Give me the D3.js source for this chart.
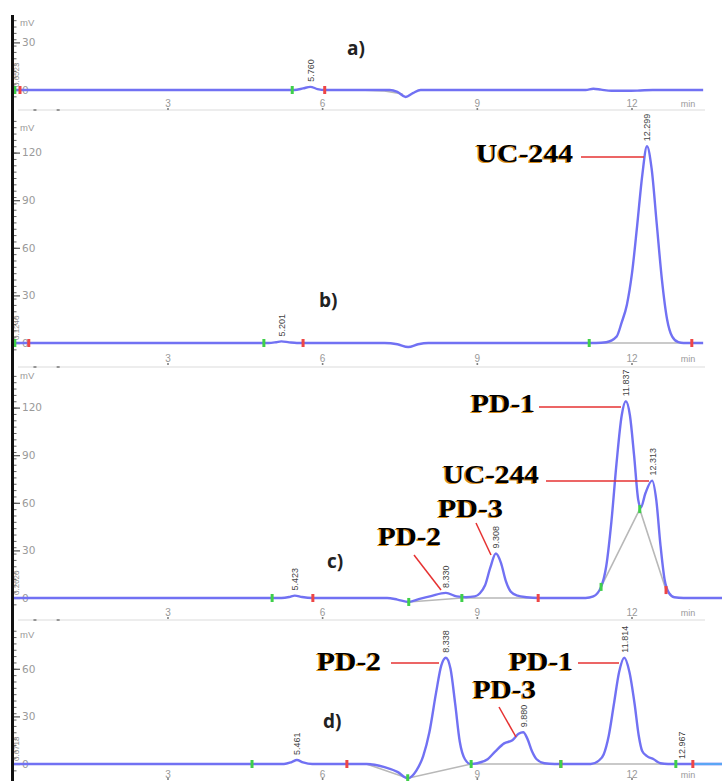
<!DOCTYPE html>
<html>
<head>
<meta charset="utf-8">
<script src="https://cdn.jsdelivr.net/npm/d3@7"></script>
<style>
  body { margin: 0; background: #fff; }
</style>
</head>
<body>
<svg id="chart"></svg>
<script>
// chromatogram traces, [time (min), signal (mV)]
const traceA = [[0,0],[1.5,0],[3,0],[4.5,0],[5.45,0],[5.62,1],[5.76,2],[5.9,0.6],[6.05,0],[6.6,0],[7.3,0],[7.45,-1.2],[7.61,-4.4],[7.75,-2],[7.9,0],[8.6,0],[10,0],[11.1,0],[11.25,0.8],[11.4,0.2],[11.6,-0.5],[12.1,-0.4],[12.4,0],[13.38,0]];
const traceB = [[0,0],[2,0],[4,0],[4.95,0],[5.1,0.5],[5.2,1],[5.35,0.4],[5.5,0],[6.2,0],[7.2,0],[7.45,-0.8],[7.66,-2.5],[7.85,-0.8],[8.05,0],[9,0],[10.5,0],[11.3,0],[11.5,0.5],[11.7,4],[11.8,13],[11.9,24],[12.0,44],[12.1,74],[12.2,106],[12.29,124],[12.38,110],[12.48,75],[12.58,40],[12.68,15],[12.78,4],[12.9,0.5],[13.0,0],[13.38,0]];
const traceC = [[0,0],[2,0],[4,0],[5.2,0],[5.35,0.6],[5.46,1.5],[5.6,0.6],[5.8,0],[6.6,0],[7.25,0],[7.45,-1],[7.67,-2.5],[7.88,-0.6],[8.1,1.2],[8.39,3.2],[8.6,1],[8.78,0.5],[8.95,1],[9.05,3],[9.15,8],[9.25,19],[9.36,28],[9.46,22],[9.55,11],[9.65,4],[9.78,1.5],[9.95,0.5],[10.2,0],[10.6,0],[11.1,0],[11.25,1],[11.4,7],[11.5,20],[11.6,48],[11.7,85],[11.8,115],[11.88,124],[11.96,115],[12.04,90],[12.12,62],[12.17,57],[12.26,66],[12.39,74],[12.47,62],[12.55,34],[12.63,12],[12.72,3],[12.82,0.5],[13.0,0],[13.75,0]];
const traceD = [[0,0],[2,0],[4,0],[5.25,0],[5.4,1.2],[5.5,2.5],[5.62,1],[5.8,0],[6.5,0],[6.85,0],[7.2,-2],[7.45,-5],[7.65,-9],[7.82,-4],[7.95,5],[8.07,20],[8.2,45],[8.3,62],[8.39,67],[8.48,60],[8.57,38],[8.66,14],[8.76,3],[8.87,0],[9.0,0.5],[9.2,3],[9.35,8],[9.52,13],[9.68,15],[9.8,19],[9.89,20],[9.97,16],[10.06,8],[10.15,3],[10.3,0.5],[10.5,0],[11.2,0],[11.35,2],[11.45,6],[11.55,18],[11.65,38],[11.75,58],[11.85,67],[11.95,58],[12.05,38],[12.13,18],[12.2,8],[12.29,5],[12.42,3],[12.55,0.5],[12.7,0],[13.75,0]];

// integration baselines (grey)
const baseA = [[6.7,0],[7.2,-0.6],[7.55,-2.5]];
const baseB = [[11.17,0],[13.16,0]];
const baseC = [[7.67,-2.5],[8.7,0],[10.18,0]];
const baseC2 = [[11.4,7],[12.15,56],[12.66,5]];
const baseD = [[6.85,0],[7.65,-9],[8.88,0],[10.62,0],[12.85,0]];

// peak start/end marks: [time, mV, kind]
const marksA = [[0.03,0,"s"],[0.13,0,"e"],[5.41,0,"s"],[6.04,0,"e"]];
const marksB = [[0.03,0,"s"],[0.3,0,"e"],[4.86,0,"s"],[5.62,0,"e"],[11.17,0,"s"],[13.16,0,"e"]];
const marksC = [[5.02,0,"s"],[5.81,0,"e"],[7.67,-2.5,"s"],[8.7,0,"s"],[10.18,0,"e"],[11.4,7,"s"],[12.15,56,"s"],[12.66,5,"e"]];
const marksD = [[4.63,0,"s"],[6.47,0,"e"],[7.65,-9,"s"],[8.88,0,"s"],[10.62,0,"e"],[10.62,0,"s"],[12.85,0,"s"],[13.18,0,"e"]];

// retention time labels: [time, mV at apex, text]
const peaksA = [[5.76,2,"5.760"]];
const peaksB = [[5.2,1,"5.201"],[12.29,124,"12.299"]];
const peaksC = [[5.46,1.5,"5.423"],[8.39,3.2,"8.330"],[9.36,28,"9.308"],[11.88,124,"11.837"],[12.39,74,"12.313"]];
const peaksD = [[5.5,2.5,"5.461"],[8.39,67,"8.338"],[9.89,20,"9.880"],[11.85,67,"11.814"],[12.967,0,"12.967"]];

const yTicksA = [0, 30];
const yTicksB = [0, 30, 60, 90, 120];
const yTicksC = [0, 30, 60, 90, 120];
const yTicksD = [0, 30, 60];
const xTicks = [3, 6, 9, 12];
const panelLetters = ["a)", "b)", "c)", "d)"];
const startLabels = ["0.0523", "0.1240", "0.2620", "0.0718"];

const svg = d3.select("#chart")
    .attr("width", 722)
    .attr("height", 781)
    .style("font-family", "'Liberation Sans', Arial, sans-serif");

const x = d3.scaleLinear().domain([0, 13.6]).range([13.3, 714.5]);

const panels = [
    { zero: 90,  sep: 110,  mv: 23,  xlab: 103, trace: traceA, bases: [baseA],         marks: marksA, peaks: peaksA, ticks: yTicksA, top: 20 },
    { zero: 343, sep: 367,  mv: 128, xlab: 358, trace: traceB, bases: [baseB],         marks: marksB, peaks: peaksB, ticks: yTicksB, top: 120 },
    { zero: 598, sep: 620,  mv: 376, xlab: 612, trace: traceC, bases: [baseC, baseC2], marks: marksC, peaks: peaksC, ticks: yTicksC, top: 372 },
    { zero: 764, sep: null, mv: 635, xlab: 774, trace: traceD, bases: [baseD],         marks: marksD, peaks: peaksD, ticks: yTicksD, top: 625 }
];

// label boxes and leader lines for compounds (pixel layout)
const compounds = [
    { text: "UC-244", x: 476, y: 162, w: 97, leader: [[581,157],[644,157]] },
    { text: "PD-1",   x: 471, y: 412, w: 64, leader: [[539,407],[621,407]] },
    { text: "UC-244", x: 443, y: 483, w: 96, leader: [[546,481],[649,481]] },
    { text: "PD-3",   x: 438, y: 517, w: 65, leader: [[476,523],[491,555]] },
    { text: "PD-2",   x: 378, y: 545, w: 63, leader: [[414,555],[441,590]] },
    { text: "PD-2",   x: 317, y: 670, w: 64, leader: [[391,663],[439,663]] },
    { text: "PD-1",   x: 509, y: 670, w: 64, leader: [[578,663],[619,663]] },
    { text: "PD-3",   x: 473, y: 698, w: 63, leader: [[499,707],[516,737]] }
];
const letterPos = [[347,55],[319,307],[327,568],[323,728]];

panels.forEach(function(p, i) {
    const y = d3.scaleLinear().domain([0, 30]).range([p.zero, p.zero - 47.6]);
    const g = svg.append("g");

    // separator / x axis line
    if (p.sep) {
        g.append("line")
            .attr("x1", 18).attr("x2", 705)
            .attr("y1", p.sep).attr("y2", p.sep)
            .attr("stroke", "#dcdcdc").attr("stroke-width", 1.2);
        g.selectAll(".mt").data([0.42, 0.87]).join("line")
            .attr("x1", d => x(d) - 1.5).attr("x2", d => x(d) + 1.5)
            .attr("y1", p.sep).attr("y2", p.sep)
            .attr("stroke", "#777").attr("stroke-width", 1.5);
    }

    // x tick labels
    g.selectAll(".xt").data(xTicks).join("text")
        .attr("x", d => x(d))
        .attr("y", p.xlab)
        .attr("text-anchor", "middle")
        .attr("dy", "0.35em")
        .style("font-size", "10px")
        .style("fill", "#9a9a9a")
        .text(d => d);
    g.selectAll(".xd").data(xTicks).join("circle")
        .attr("cx", d => x(d))
        .attr("cy", Math.min(p.xlab + 6, 779))
        .attr("r", 1)
        .attr("fill", "#777");
    g.append("text")
        .attr("x", 688).attr("y", p.xlab + 1)
        .attr("text-anchor", "middle")
        .attr("dy", "0.35em")
        .style("font-size", "9px")
        .style("fill", "#9a9a9a")
        .text("min");

    // y axis
    const yMin = y.invert(p.zero + 8), yMax = y.invert(p.top);
    const minor = g.append("g")
        .attr("transform", "translate(14,0)")
        .call(d3.axisRight(y).tickValues(d3.range(Math.ceil(yMin / 4) * 4, yMax, 4)).tickSize(2.5).tickFormat(""));
    minor.select(".domain").remove();
    minor.selectAll("line").attr("stroke", "#666");

    const ya = g.append("g")
        .attr("transform", "translate(14,0)")
        .call(d3.axisRight(y).tickValues(p.ticks).tickSize(6).tickPadding(2));
    ya.select(".domain").remove();
    ya.selectAll("line").attr("stroke", "#555").attr("stroke-width", 1.2);
    ya.selectAll("text")
        .style("font-size", "10.5px")
        .style("font-family", "'DejaVu Sans', sans-serif")
        .style("fill", "#9a9a9a");

    g.append("text")
        .attr("x", 20).attr("y", p.mv)
        .attr("dy", "0.35em")
        .style("font-size", "9.5px")
        .style("fill", "#9a9a9a")
        .text("mV");

    // garbled start label at the very left
    g.append("text")
        .attr("transform", `translate(19,${p.zero - 3}) rotate(-90)`)
        .style("font-size", "8px")
        .style("fill", "#888")
        .text(startLabels[i]);

    // integration baselines
    const line = d3.line().x(d => x(d[0])).y(d => y(d[1]));
    p.bases.forEach(function(b) {
        g.append("path")
            .attr("d", line(b))
            .attr("fill", "none")
            .attr("stroke", "#b8b8b8")
            .attr("stroke-width", 1.6);
    });

    // trace
    const curve = d3.line().x(d => x(d[0])).y(d => y(d[1])).curve(d3.curveMonotoneX);
    g.append("path")
        .attr("d", curve(p.trace))
        .attr("fill", "none")
        .attr("stroke", "#7171f3")
        .attr("stroke-width", 2.4)
        .attr("stroke-linejoin", "round");
    if (i === 3) {
        g.append("path")
            .attr("d", curve(p.trace.filter(d => d[0] >= 12.7).map(d => d[0] === 12.7 ? [13.2, 0] : d)))
            .attr("fill", "none")
            .attr("stroke", "#5aa6f5")
            .attr("stroke-width", 2.2);
    }

    // start/end marks
    g.selectAll(".mk").data(p.marks).join("rect")
        .attr("x", d => x(d[0]) - 1.5)
        .attr("y", d => y(d[1]) - 4)
        .attr("width", 3)
        .attr("height", 8)
        .attr("fill", d => d[2] === "s" ? "#3fcf4a" : "#ee4646");

    // retention time labels
    g.selectAll(".pk").data(p.peaks).join("text")
        .attr("transform", d => `translate(${x(d[0]) + 3.5},${y(d[1]) - 5}) rotate(-90)`)
        .style("font-size", "9px")
        .style("font-family", "'Liberation Sans Narrow', 'Liberation Sans', sans-serif")
        .style("fill", "#444")
        .text(d => d[2]);

    // panel letter
    g.append("text")
        .attr("x", letterPos[i][0]).attr("y", letterPos[i][1])
        .style("font-family", "'Open Sans', sans-serif")
        .style("font-weight", "bold")
        .style("font-size", "19px")
        .style("fill", "#222")
        .text(panelLetters[i]);
});

// compound annotations
compounds.forEach(function(c) {
    svg.append("path")
        .attr("d", d3.line()(c.leader))
        .attr("fill", "none")
        .attr("stroke", "#e63232")
        .attr("stroke-width", 1.5);
    [["#d9901e", -1.3, 0.9], ["#000", 0, 0]].forEach(function(s) {
        svg.append("text")
            .attr("x", c.x + s[1]).attr("y", c.y + s[2])
            .attr("textLength", c.w)
            .attr("lengthAdjust", "spacingAndGlyphs")
            .style("font-family", "'Liberation Serif', 'Times New Roman', serif")
            .style("font-weight", "bold")
            .style("font-size", "25px")
            .style("fill", s[0])
            .text(c.text);
    });
});

// left black bar
svg.append("rect")
    .attr("x", 11).attr("y", 15)
    .attr("width", 3).attr("height", 766)
    .attr("fill", "#111");
</script>
</body>
</html>
